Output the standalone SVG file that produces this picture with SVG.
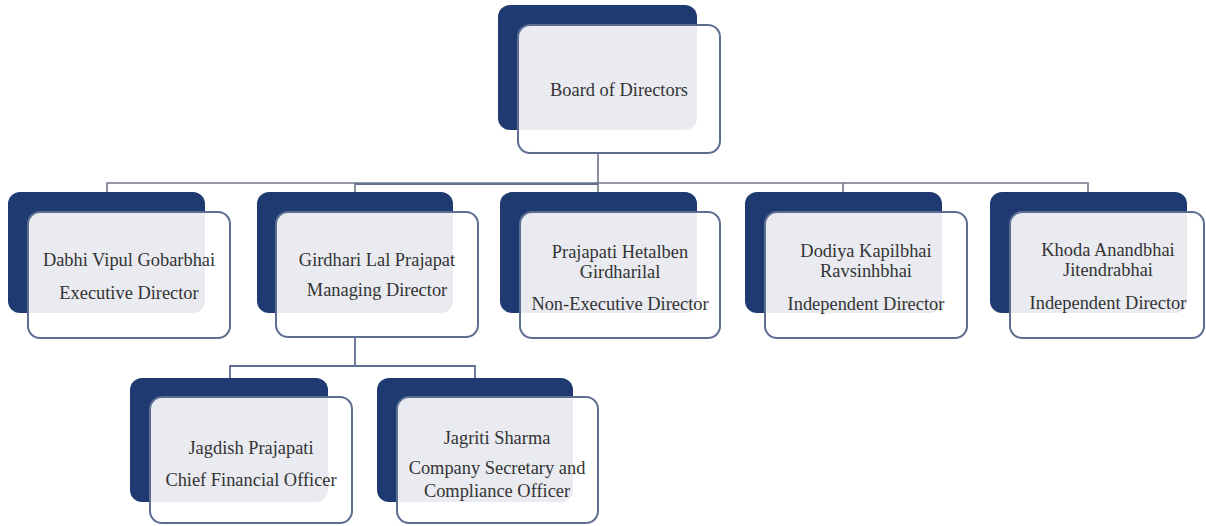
<svg xmlns="http://www.w3.org/2000/svg" width="1206" height="526" viewBox="0 0 1206 526">
<style>
.back{fill:#1f3a70}
.front{fill:#ffffff;fill-opacity:0.9;stroke:#5d6e92;stroke-width:2}
.t{font-family:"Liberation Serif","Times New Roman",serif;font-size:18.4px;fill:#333333;text-anchor:middle}
.c{fill:none;stroke:#6f7787;stroke-width:1.6}
.c2{fill:none;stroke:#5f6e92;stroke-width:1.8}
</style>
<rect width="1206" height="526" fill="#ffffff"/>
<g id="connectors">
<path class="c" d="M598 153V183M107 192V183H1088V192M355 183V192M598 183V192M843 183V192"/>
<path class="c2" d="M355 184H598"/>
<path class="c2" d="M355 337V366M230 378V366H475V378"/>
</g>
<g id="board">
<rect class="back" x="498" y="5" width="199" height="125" rx="12"/>
<rect class="front" x="518" y="25" width="202" height="128" rx="12"/>
<text class="t" x="619" y="96">Board of Directors</text>
</g>
<g id="dabhi">
<rect class="back" x="8" y="192" width="197" height="121" rx="12"/>
<rect class="front" x="28" y="212" width="202" height="126" rx="12"/>
<text class="t" x="129" y="266">Dabhi Vipul Gobarbhai</text>
<text class="t" x="129" y="299">Executive Director</text>
</g>
<g id="girdhari">
<rect class="back" x="257" y="192" width="196" height="121" rx="12"/>
<rect class="front" x="276" y="212" width="202" height="125" rx="12"/>
<text class="t" x="377" y="266">Girdhari Lal Prajapat</text>
<text class="t" x="377" y="296">Managing Director</text>
</g>
<g id="hetalben">
<rect class="back" x="500" y="192" width="197" height="121" rx="12"/>
<rect class="front" x="520" y="212" width="200" height="126" rx="12"/>
<text class="t" x="620" y="258">Prajapati Hetalben</text>
<text class="t" x="620" y="278">Girdharilal</text>
<text class="t" x="620" y="310">Non-Executive Director</text>
</g>
<g id="dodiya">
<rect class="back" x="745" y="192" width="197" height="121" rx="12"/>
<rect class="front" x="765" y="212" width="202" height="126" rx="12"/>
<text class="t" x="866" y="257">Dodiya Kapilbhai</text>
<text class="t" x="866" y="277">Ravsinhbhai</text>
<text class="t" x="866" y="310">Independent Director</text>
</g>
<g id="khoda">
<rect class="back" x="990" y="192" width="197" height="121" rx="12"/>
<rect class="front" x="1010" y="212" width="194" height="126" rx="12"/>
<text class="t" x="1108" y="256">Khoda Anandbhai</text>
<text class="t" x="1108" y="276">Jitendrabhai</text>
<text class="t" x="1108" y="309">Independent Director</text>
</g>
<g id="jagdish">
<rect class="back" x="130" y="378" width="198" height="124" rx="12"/>
<rect class="front" x="150" y="397" width="202" height="126" rx="12"/>
<text class="t" x="251" y="454">Jagdish Prajapati</text>
<text class="t" x="251" y="486">Chief Financial Officer</text>
</g>
<g id="jagriti">
<rect class="back" x="377" y="378" width="196" height="124" rx="12"/>
<rect class="front" x="397" y="397" width="201" height="126" rx="12"/>
<text class="t" x="497" y="444">Jagriti Sharma</text>
<text class="t" x="497" y="474">Company Secretary and</text>
<text class="t" x="497" y="497">Compliance Officer</text>
</g>
</svg>
